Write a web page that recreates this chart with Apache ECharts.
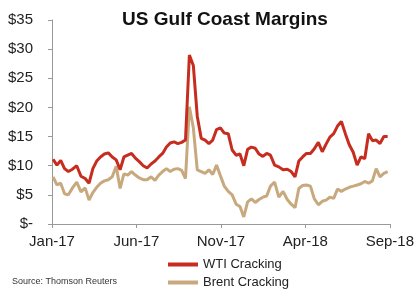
<!DOCTYPE html>
<html>
<head>
<meta charset="utf-8">
<script src="https://cdn.jsdelivr.net/npm/echarts@6/dist/echarts.min.js"></script>
<style>
  html, body { margin: 0; padding: 0; background: #fff; }
  #chart { width: 417px; height: 291px; }
</style>
</head>
<body>
<div id="chart"></div>
<script>
// weekly margins, first week 3 Jan 2017
var firstWeek = [2017, 0, 3]
var wtiCracking = [
  11.1, 10.1, 10.9, 9.5, 9.0, 9.4, 10.0, 8.2, 7.8, 7.0,
  9.5, 10.8, 11.5, 12.0, 12.2, 11.5, 11.0, 9.3, 11.5, 11.8,
  12.1, 11.3, 10.7, 10.0, 9.6, 10.3, 10.8, 11.5, 12.1, 13.2,
  13.9, 14.1, 13.8, 14.0, 14.4, 29.0, 27.2, 18.5, 14.7, 14.4,
  13.8, 14.4, 16.2, 16.5, 15.6, 15.5, 12.7, 11.8, 12.0, 10.0,
  12.8, 13.2, 13.0, 12.0, 11.6, 12.1, 11.8, 10.1, 9.8, 9.3,
  9.4, 9.0, 8.1, 10.8, 11.5, 12.1, 12.1, 12.9, 14.0, 12.4,
  13.7, 14.9, 15.5, 16.8, 17.6, 15.5, 13.6, 12.3, 10.1, 11.5,
  11.2, 15.5, 14.3, 14.4, 13.8, 15.0, 15.0
]
var brentCracking = [
  8.1, 6.7, 7.0, 5.2, 5.0, 6.2, 7.2, 5.5, 6.2, 4.1,
  5.4, 6.3, 7.0, 7.4, 7.6, 8.1, 9.9, 6.1, 8.6, 8.4,
  9.0, 8.4, 7.9, 7.6, 7.6, 8.1, 7.5, 8.4, 9.0, 9.5,
  9.0, 9.4, 9.5, 9.2, 7.8, 20.1, 16.5, 9.3, 9.0, 8.7,
  9.3, 8.5, 10.1, 8.3, 6.5, 5.6, 5.0, 3.4, 3.0, 1.2,
  3.8, 4.3, 3.7, 4.2, 4.6, 4.8, 6.5, 7.2, 4.6, 5.6,
  4.2, 3.4, 2.8, 6.1, 6.6, 6.7, 6.5, 4.3, 3.3, 3.9,
  4.1, 4.6, 4.4, 6.0, 5.6, 6.0, 6.3, 6.5, 6.7, 6.9,
  7.3, 7.0, 7.4, 9.5, 8.1, 8.7, 9.0
]
// x axis runs in months counted from Jan 2017, a label every 5 months
var startYear = 2017
var monthSpan = 20
var labelStep = 5
var monthNames = ['Jan', 'Feb', 'Mar', 'Apr', 'May', 'Jun', 'Jul', 'Aug', 'Sep', 'Oct', 'Nov', 'Dec']

function monthIndex(d) {
  var dim = new Date(d.getFullYear(), d.getMonth() + 1, 0).getDate()
  return (d.getFullYear() - startYear) * 12 + d.getMonth() + (d.getDate() - 1) / dim
}
function pairs(values) {
  return values.map(function(v, i) {
    var d = new Date(firstWeek[0], firstWeek[1], firstWeek[2] + 7 * i)
    return [monthIndex(d), v]
  })
}

var chart = echarts.init(document.getElementById('chart'))
chart.setOption({
  animation: false,
  textStyle: { fontFamily: 'Liberation Sans, Arial, sans-serif' },
  title: {
    text: 'US Gulf Coast Margins',
    left: 220,
    textAlign: 'center',
    top: 5,
    textStyle: { fontSize: 19, fontWeight: 'bold', color: '#111' }
  },
  grid: {
    left: 52,
    right: 27,
    top: 20,
    bottom: 67
  },
  legend: {
    orient: 'vertical',
    left: 168,
    top: 258,
    padding: 0,
    itemWidth: 30,
    itemHeight: 4,
    itemGap: 5,
    icon: 'rect',
    textStyle: { fontSize: 13, color: '#222' },
    data: ['WTI Cracking', 'Brent Cracking']
  },
  graphic: [{
    type: 'text',
    left: 12,
    top: 277,
    style: {
      text: 'Source: Thomson Reuters',
      fontSize: 9,
      fill: '#333',
      fontFamily: 'Liberation Sans, Arial, sans-serif'
    }
  }],
  xAxis: {
    type: 'value',
    min: 0,
    max: monthSpan,
    interval: labelStep,
    axisLine: { lineStyle: { color: '#999' } },
    axisTick: { length: 4, lineStyle: { color: '#999' } },
    axisLabel: {
      fontSize: 15,
      color: '#222',
      margin: 10,
      formatter: function(v) {
        var y = startYear + Math.floor(v / 12)
        return monthNames[v % 12] + '-' + String(y).slice(2)
      }
    },
    splitLine: { show: false }
  },
  yAxis: {
    type: 'value',
    min: 0,
    max: 35,
    interval: 5,
    axisLine: { show: true, lineStyle: { color: '#999' } },
    axisTick: { show: true, length: 4, lineStyle: { color: '#999' } },
    axisLabel: {
      fontSize: 15,
      color: '#222',
      margin: 19,
      formatter: function(v) {
        return v === 0 ? '$-' : '$' + v
      }
    },
    splitLine: { show: false }
  },
  series: [{
    name: 'WTI Cracking',
    type: 'line',
    showSymbol: false,
    color: '#C62D1F',
    lineStyle: { width: 3, color: '#C62D1F' },
    data: pairs(wtiCracking),
    z: 3
  }, {
    name: 'Brent Cracking',
    type: 'line',
    showSymbol: false,
    color: '#C8A97E',
    lineStyle: { width: 3, color: '#C8A97E' },
    data: pairs(brentCracking),
    z: 2
  }]
})
</script>
</body>
</html>
